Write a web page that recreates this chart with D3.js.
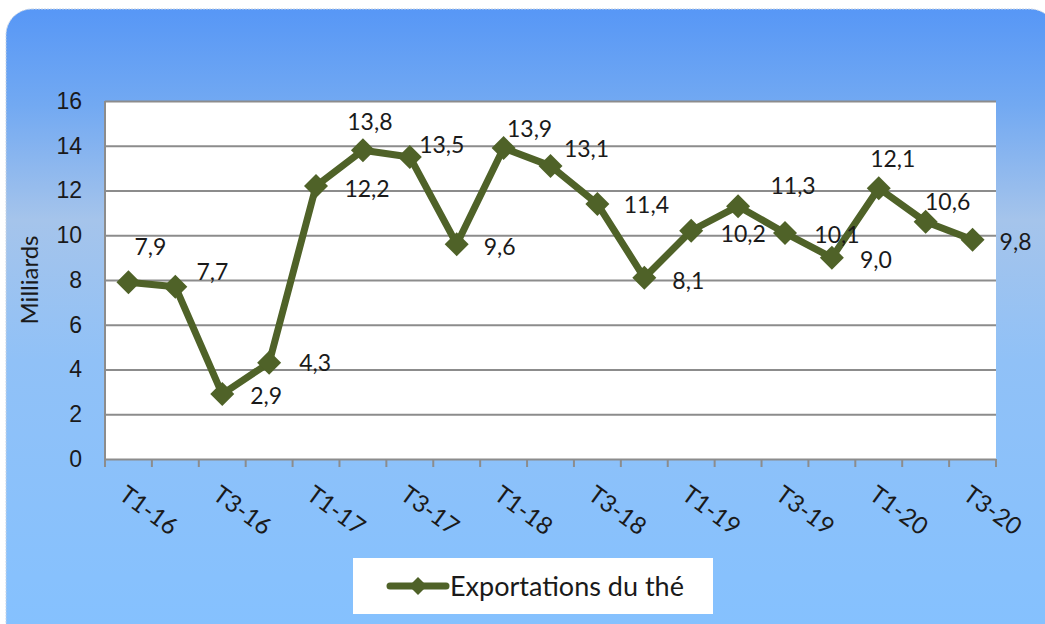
<!DOCTYPE html>
<html>
<head>
<meta charset="utf-8">
<script src="https://cdn.jsdelivr.net/npm/d3@7"></script>
<style>
  body { margin: 0; background: #ffffff; }
  svg { display: block; font-family: Lato, "Open Sans", sans-serif; }
</style>
</head>
<body>
<div class="chart"></div>
<script>
const quarters = ["T1-16", "T2-16", "T3-16", "T4-16", "T1-17", "T2-17", "T3-17", "T4-17",
    "T1-18", "T2-18", "T3-18", "T4-18", "T1-19", "T2-19", "T3-19", "T4-19",
    "T1-20", "T2-20", "T3-20"];
const exportValues = [7.9, 7.7, 2.9, 4.3, 12.2, 13.8, 13.5, 9.6, 13.9, 13.1, 11.4, 8.1,
    10.2, 11.3, 10.1, 9.0, 12.1, 10.6, 9.8];
const yTicks = [0, 2, 4, 6, 8, 10, 12, 14, 16];
const seriesName = "Exportations du thé";
const yTitle = "Milliards";

// where each value label sits relative to its marker (as in the original)
const labelOffsets = [[22, -36], [37, -15], [44, 2], [46, 0], [51, 3], [7, -29], [32, -12],
    [43, 3], [26, -19], [36, -17], [49, 1], [44, 3], [52, 3], [55, -20], [52, 2],
    [44, 2], [14, -30], [22, -20], [43, 2]];

const width = 1045;
const height = 624;
const margin = {top: 101, right: 49, bottom: 165, left: 105};
const lineColor = "#4f6228";
const gridColor = "#8c8c8c";

const svg = d3.select(".chart")
    .append("svg")
    .attr("width", width)
    .attr("height", height);

const defs = svg.append("defs");
const grad = defs.append("linearGradient")
    .attr("id", "bg")
    .attr("x1", 0).attr("y1", 0).attr("x2", 0).attr("y2", 1);
grad.append("stop").attr("offset", "0%").attr("stop-color", "#5797f6");
grad.append("stop").attr("offset", "15%").attr("stop-color", "#72a9f2");
grad.append("stop").attr("offset", "33%").attr("stop-color", "#a5c4eb");
grad.append("stop").attr("offset", "55%").attr("stop-color", "#90c1f7");
grad.append("stop").attr("offset", "100%").attr("stop-color", "#84c1ff");

svg.append("rect")
    .attr("x", 6)
    .attr("y", 9)
    .attr("width", 1050)
    .attr("height", 640)
    .attr("rx", 26)
    .attr("fill", "url(#bg)")
    .attr("stroke", "#c8d4e4")
    .attr("stroke-width", 1)
    .attr("stroke-dasharray", "2,1");

const x = d3.scaleBand()
    .domain(quarters)
    .range([margin.left, width - margin.right]);

const y = d3.scaleLinear()
    .domain([0, 16])
    .range([height - margin.bottom, margin.top]);

// plot area
svg.append("rect")
    .attr("x", margin.left)
    .attr("y", margin.top)
    .attr("width", width - margin.right - margin.left)
    .attr("height", y(0) - margin.top)
    .attr("fill", "#ffffff");

// y axis with gridlines
const yAxis = svg.append("g")
    .attr("transform", `translate(${margin.left}, 0)`)
    .call(d3.axisLeft(y).tickValues(yTicks).tickSize(9).tickPadding(14).tickFormat(d => d));
yAxis.select(".domain").remove();
yAxis.selectAll(".tick line")
    .attr("stroke", gridColor)
    .attr("stroke-width", 2)
    .attr("x2", width - margin.right - margin.left);
yAxis.selectAll(".tick text")
    .attr("fill", "#1a1a1a")
    .style("font-size", "23px");

svg.append("line")
    .attr("x1", margin.left).attr("x2", margin.left)
    .attr("y1", margin.top).attr("y2", y(0) + 8)
    .attr("stroke", gridColor)
    .attr("stroke-width", 2);

// x axis: tick marks sit on category boundaries
const boundaries = quarters.map(q => x(q)).concat([width - margin.right]);
svg.append("g")
    .selectAll("line")
    .data(boundaries)
    .enter()
    .append("line")
    .attr("x1", d => d).attr("x2", d => d)
    .attr("y1", y(0)).attr("y2", y(0) + 8)
    .attr("stroke", gridColor)
    .attr("stroke-width", 2);

svg.append("g")
    .selectAll("text")
    .data(quarters.filter((q, i) => i % 2 === 0))
    .enter()
    .append("text")
    .attr("transform", d => `translate(${x(d) + x.bandwidth() / 2 - 11}, ${y(0) + 39}) rotate(36)`)
    .attr("fill", "#1a1a1a")
    .style("font-size", "24px")
    .text(d => d);

svg.append("text")
    .attr("transform", `translate(38, 280) rotate(-90)`)
    .attr("text-anchor", "middle")
    .attr("fill", "#1a1a1a")
    .style("font-size", "24px")
    .text(yTitle);

// series line
const line = d3.line()
    .x((d, i) => x(quarters[i]) + x.bandwidth() / 2)
    .y(d => y(d));

svg.append("path")
    .datum(exportValues)
    .attr("d", line)
    .attr("fill", "none")
    .attr("stroke", lineColor)
    .attr("stroke-width", 7)
    .attr("stroke-linejoin", "round");

const diamond = r => `M0,${-r}L${r},0L0,${r}L${-r},0Z`;

svg.append("g")
    .selectAll("path")
    .data(exportValues)
    .enter()
    .append("path")
    .attr("transform", (d, i) => `translate(${x(quarters[i]) + x.bandwidth() / 2}, ${y(d)})`)
    .attr("d", diamond(12))
    .attr("fill", lineColor);

svg.append("g")
    .selectAll("text")
    .data(exportValues)
    .enter()
    .append("text")
    .attr("x", (d, i) => x(quarters[i]) + x.bandwidth() / 2 + labelOffsets[i][0])
    .attr("y", (d, i) => y(d) + labelOffsets[i][1])
    .attr("dy", "0.36em")
    .attr("text-anchor", "middle")
    .attr("fill", "#1a1a1a")
    .style("font-size", "23px")
    .text(d => d.toFixed(1).replace(".", ","));

// legend
const legend = svg.append("g");
legend.append("rect")
    .attr("x", 353)
    .attr("y", 558)
    .attr("width", 360)
    .attr("height", 56)
    .attr("fill", "#ffffff");
legend.append("line")
    .attr("x1", 390).attr("x2", 446)
    .attr("y1", 586).attr("y2", 586)
    .attr("stroke", lineColor)
    .attr("stroke-width", 7)
    .attr("stroke-linecap", "round");
legend.append("path")
    .attr("transform", "translate(418, 586)")
    .attr("d", diamond(9))
    .attr("fill", lineColor);
legend.append("text")
    .attr("x", 450)
    .attr("y", 586)
    .attr("dy", "0.36em")
    .attr("fill", "#1a1a1a")
    .style("font-size", "27px")
    .text(seriesName);
</script>
</body>
</html>
